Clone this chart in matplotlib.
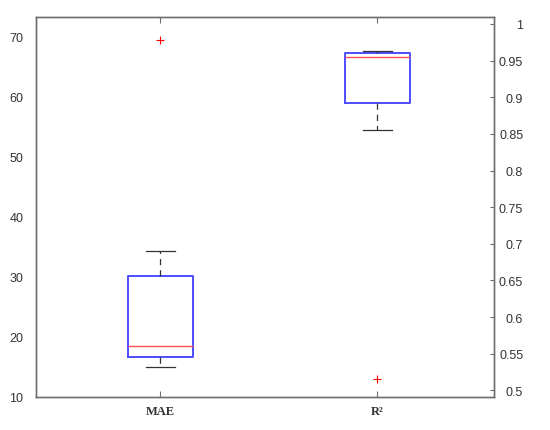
import matplotlib.pyplot as plt

# Datos (estadísticas de las cajas)
etiquetas = ["MAE", "R²"]
mae_stats = [15.0, 16.6, 18.5, 30.1, 34.4]        # bigote inf, Q1, mediana, Q3, bigote sup
mae_atipicos = [69.5]
r2_stats = [0.8555, 0.8927, 0.955, 0.9605, 0.9636]
r2_atipicos = [0.516]

mae_ticks = [10, 20, 30, 40, 50, 60, 70]
r2_ticks = [0.5, 0.55, 0.6, 0.65, 0.7, 0.75, 0.8, 0.85, 0.9, 0.95, 1.0]

plt.rcParams["font.family"] = ["Liberation Sans", "DejaVu Sans"]


def caja(stats, atipicos, etiqueta):
    return dict(whislo=stats[0], q1=stats[1], med=stats[2], q3=stats[3],
                whishi=stats[4], fliers=atipicos, label=etiqueta)


estilo = dict(
    widths=0.3, capwidths=0.135, showfliers=True,
    boxprops=dict(color="#4d4dff", linewidth=1.4),
    medianprops=dict(color="#ff5050", linewidth=1.0),
    whiskerprops=dict(color="#333333", linestyle=(0, (5, 4)), linewidth=0.9),
    capprops=dict(color="#333333", linewidth=0.9),
    flierprops=dict(marker="+", markeredgecolor="red", markersize=6, markeredgewidth=0.8),
)

fig = plt.figure(figsize=(5.5, 4.31), dpi=100)
ax = fig.add_axes([0.0655, 0.0766, 0.8327, 0.8816])
ax2 = ax.twinx()

ax.bxp([caja(mae_stats, mae_atipicos, etiquetas[0])], positions=[1], **estilo)
ax2.bxp([caja(r2_stats, r2_atipicos, etiquetas[1])], positions=[2], **estilo)

ax.set_xlim(0.426, 2.538)
ax.set_ylim(10, 73.3)
ax2.set_ylim(0.491, 1.0095)

ax.set_yticks(mae_ticks)
ax2.set_yticks(r2_ticks)
ax2.set_yticklabels([f"{t:g}" for t in r2_ticks], ha="right")
ax.set_xticks([1, 2])
ax.set_xticklabels(etiquetas, fontfamily="Liberation Serif", fontweight="bold", fontsize=10.5)

color_eje = "#6e6e6e"
for a in (ax, ax2):
    for s in a.spines.values():
        s.set_color(color_eje)
        s.set_linewidth(1.0)
    a.tick_params(direction="in", length=3, color=color_eje, labelcolor="#333333",
                  labelsize=9, top=True)
ax.tick_params(axis="y", direction="out", length=0, pad=9)
ax2.tick_params(axis="y", direction="in", length=3, pad=21)
ax.tick_params(axis="x", length=4, pad=6)

fig.savefig("out.png", dpi=100)
